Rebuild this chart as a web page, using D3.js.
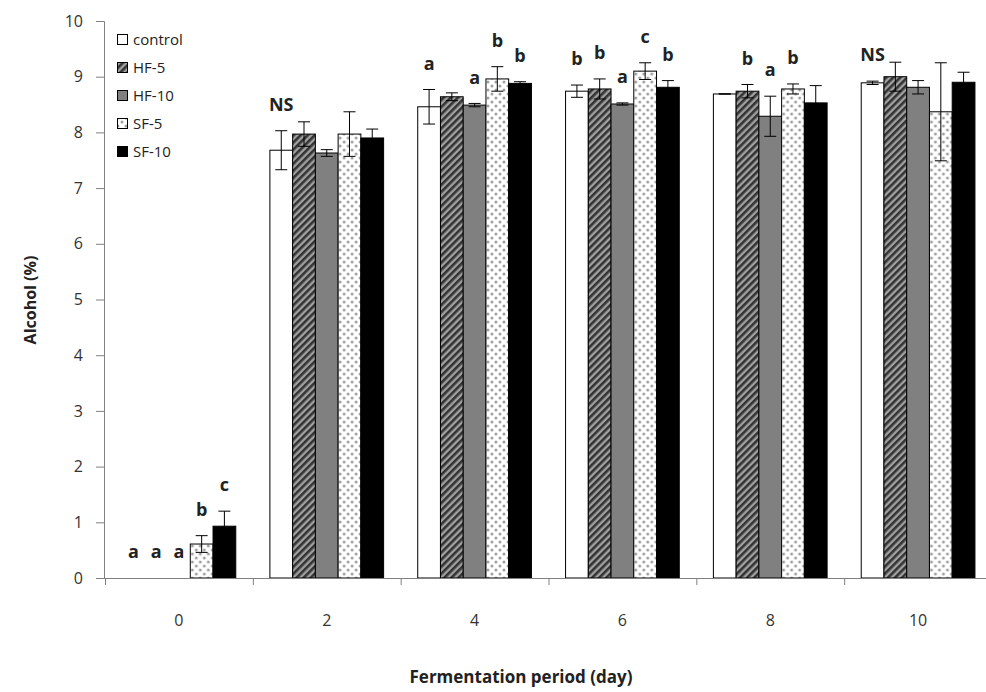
<!DOCTYPE html>
<html><head><meta charset="utf-8">
<script src="https://cdn.jsdelivr.net/npm/d3@7"></script>
<style>body{margin:0;background:#fff}svg{display:block}text{font-family:"Open Sans","Noto Sans",sans-serif}</style>
</head><body><svg id="c" width="986" height="692"></svg>
<script>
const days = ["0","2","4","6","8","10"];
const seriesNames = ["control","HF-5","HF-10","SF-5","SF-10"];
const controlVals = [0, 7.68, 8.46, 8.74, 8.69, 8.89];
const hf5Vals     = [0, 7.97, 8.64, 8.78, 8.74, 9.00];
const hf10Vals    = [0, 7.63, 8.49, 8.51, 8.29, 8.81];
const sf5Vals     = [0.61, 7.97, 8.96, 9.10, 8.78, 8.37];
const sf10Vals    = [0.93, 7.90, 8.88, 8.81, 8.53, 8.90];
const controlErr = [0, 0.35, 0.31, 0.11, 0, 0.03];
const hf5Err     = [0, 0.22, 0.07, 0.18, 0.12, 0.26];
const hf10Err    = [0, 0.06, 0.03, 0.02, 0.36, 0.12];
const sf5Err     = [0.15, 0.40, 0.22, 0.15, 0.09, 0.88];
const sf10Err    = [0.27, 0.16, 0.03, 0.12, 0.31, 0.18];
const controlLbl = ["a","NS","a","b","","NS"];
const hf5Lbl     = ["a","","","b","b",""];
const hf10Lbl    = ["a","","a","a","a",""];
const sf5Lbl     = ["b","","b","c","b",""];
const sf10Lbl    = ["c","","b","b","",""];
const yTicks = [0,1,2,3,4,5,6,7,8,9,10];

const vals = [controlVals, hf5Vals, hf10Vals, sf5Vals, sf10Vals];
const errs = [controlErr, hf5Err, hf10Err, sf5Err, sf10Err];
const lbls = [controlLbl, hf5Lbl, hf10Lbl, sf5Lbl, sf10Lbl];

const svg = d3.select("#c");
const defs = svg.append("defs");
const ph = defs.append("pattern").attr("id","hatch").attr("patternUnits","userSpaceOnUse")
  .attr("width",5).attr("height",5).attr("patternTransform","rotate(45)");
ph.append("rect").attr("width",5).attr("height",5).attr("fill","#a0a0a0");
ph.append("rect").attr("width",2.6).attr("height",5).attr("fill","#333");
const pd = defs.append("pattern").attr("id","dots").attr("patternUnits","userSpaceOnUse")
  .attr("width",8).attr("height",8);
pd.append("rect").attr("width",8).attr("height",8).attr("fill","#fff");
pd.append("circle").attr("cx",2).attr("cy",2).attr("r",1.5).attr("fill","#a0a0a0");
pd.append("circle").attr("cx",6).attr("cy",6).attr("r",1.5).attr("fill","#a0a0a0");

const fills = ["#ffffff","url(#hatch)","#808080","url(#dots)","#000000"];

const x = d3.scaleBand().domain(days).range([105, 992]).paddingInner(0).paddingOuter(0);
const y = d3.scaleLinear().domain([0,10]).range([578, 21]);
const step = x.step();
const bw = step / (5 + 1.5);
const off = (step - 5*bw)/2;
const sx = d3.scaleBand().domain(seriesNames).range([off, off + 5*bw]).padding(0);

const yAxis = d3.axisLeft(y).tickValues(yTicks).tickSize(8).tickPadding(13).tickFormat(d3.format("d"));
const gy = svg.append("g").attr("transform","translate(104,0)").call(yAxis);
gy.select(".domain").attr("stroke","#808080").attr("d","M-8,21.5H0.5V578");
gy.selectAll(".tick line").attr("stroke","#808080");
gy.selectAll("text").attr("font-size",16).attr("fill","#333");

seriesNames.forEach((s, si) => {
  days.forEach((d, di) => {
    const v = vals[si][di];
    const g = svg.append("g").attr("transform", `translate(${x(d)+sx(s)},0)`);
    if (v > 0) {
      g.append("rect").attr("x",0).attr("y",y(v)).attr("width",sx.bandwidth()).attr("height",y(0)-y(v))
        .attr("fill",fills[si]).attr("stroke","#000").attr("stroke-width",1);
    }
    const e = errs[si][di];
    if (v > 0) {
      const cx = sx.bandwidth()/2;
      const t = y(v+e), b = y(Math.max(0,v-e));
      g.append("line").attr("x1",cx).attr("x2",cx).attr("y1",t).attr("y2",b).attr("stroke","#000");
      g.append("line").attr("x1",cx-6).attr("x2",cx+6).attr("y1",t).attr("y2",t).attr("stroke","#000");
      g.append("line").attr("x1",cx-6).attr("x2",cx+6).attr("y1",b).attr("y2",b).attr("stroke","#000");
    }
    const L = lbls[si][di];
    if (L) {
      g.append("text").attr("x",sx.bandwidth()/2).attr("y",y(v+e)-26).attr("dy","0.35em")
        .attr("text-anchor","middle").attr("font-size",18).attr("font-weight","bold").attr("fill","#222").text(L);
    }
  });
});

const xa = svg.append("g").attr("transform","translate(0,578)");
xa.append("line").attr("x1",104).attr("x2",992).attr("y1",0.5).attr("y2",0.5).attr("stroke","#808080");
xa.selectAll("line.tk").data(days).join("line").attr("class","tk")
  .attr("x1", d => x(d)+0.5).attr("x2", d => x(d)+0.5).attr("y1",0).attr("y2",7).attr("stroke","#808080");
xa.selectAll("text").data(days).join("text")
  .attr("x", d => x(d)+step/2).attr("y",42).attr("dy","0.35em").attr("text-anchor","middle")
  .attr("font-size",16).attr("fill","#333").text(d => d);

svg.append("text").attr("transform","translate(30,300) rotate(-90)").attr("text-anchor","middle")
  .attr("dy","0.35em").attr("font-size",16).attr("font-weight","bold").attr("fill","#222").text("Alcohol (%)");
svg.append("text").attr("x",521).attr("y",677).attr("text-anchor","middle").attr("dy","0.35em")
  .attr("font-size",17).attr("font-weight","bold").attr("fill","#222").text("Fermentation period (day)");

const lg = svg.append("g");
seriesNames.forEach((s, i) => {
  const cy = 40 + i*28;
  lg.append("rect").attr("x",117.5).attr("y",cy-5.5).attr("width",10).attr("height",10)
    .attr("fill",fills[i]).attr("stroke","#000");
  lg.append("text").attr("x",133).attr("y",cy).attr("dy","0.35em").attr("font-size",15).attr("fill","#222").text(s);
});
</script></body></html>
